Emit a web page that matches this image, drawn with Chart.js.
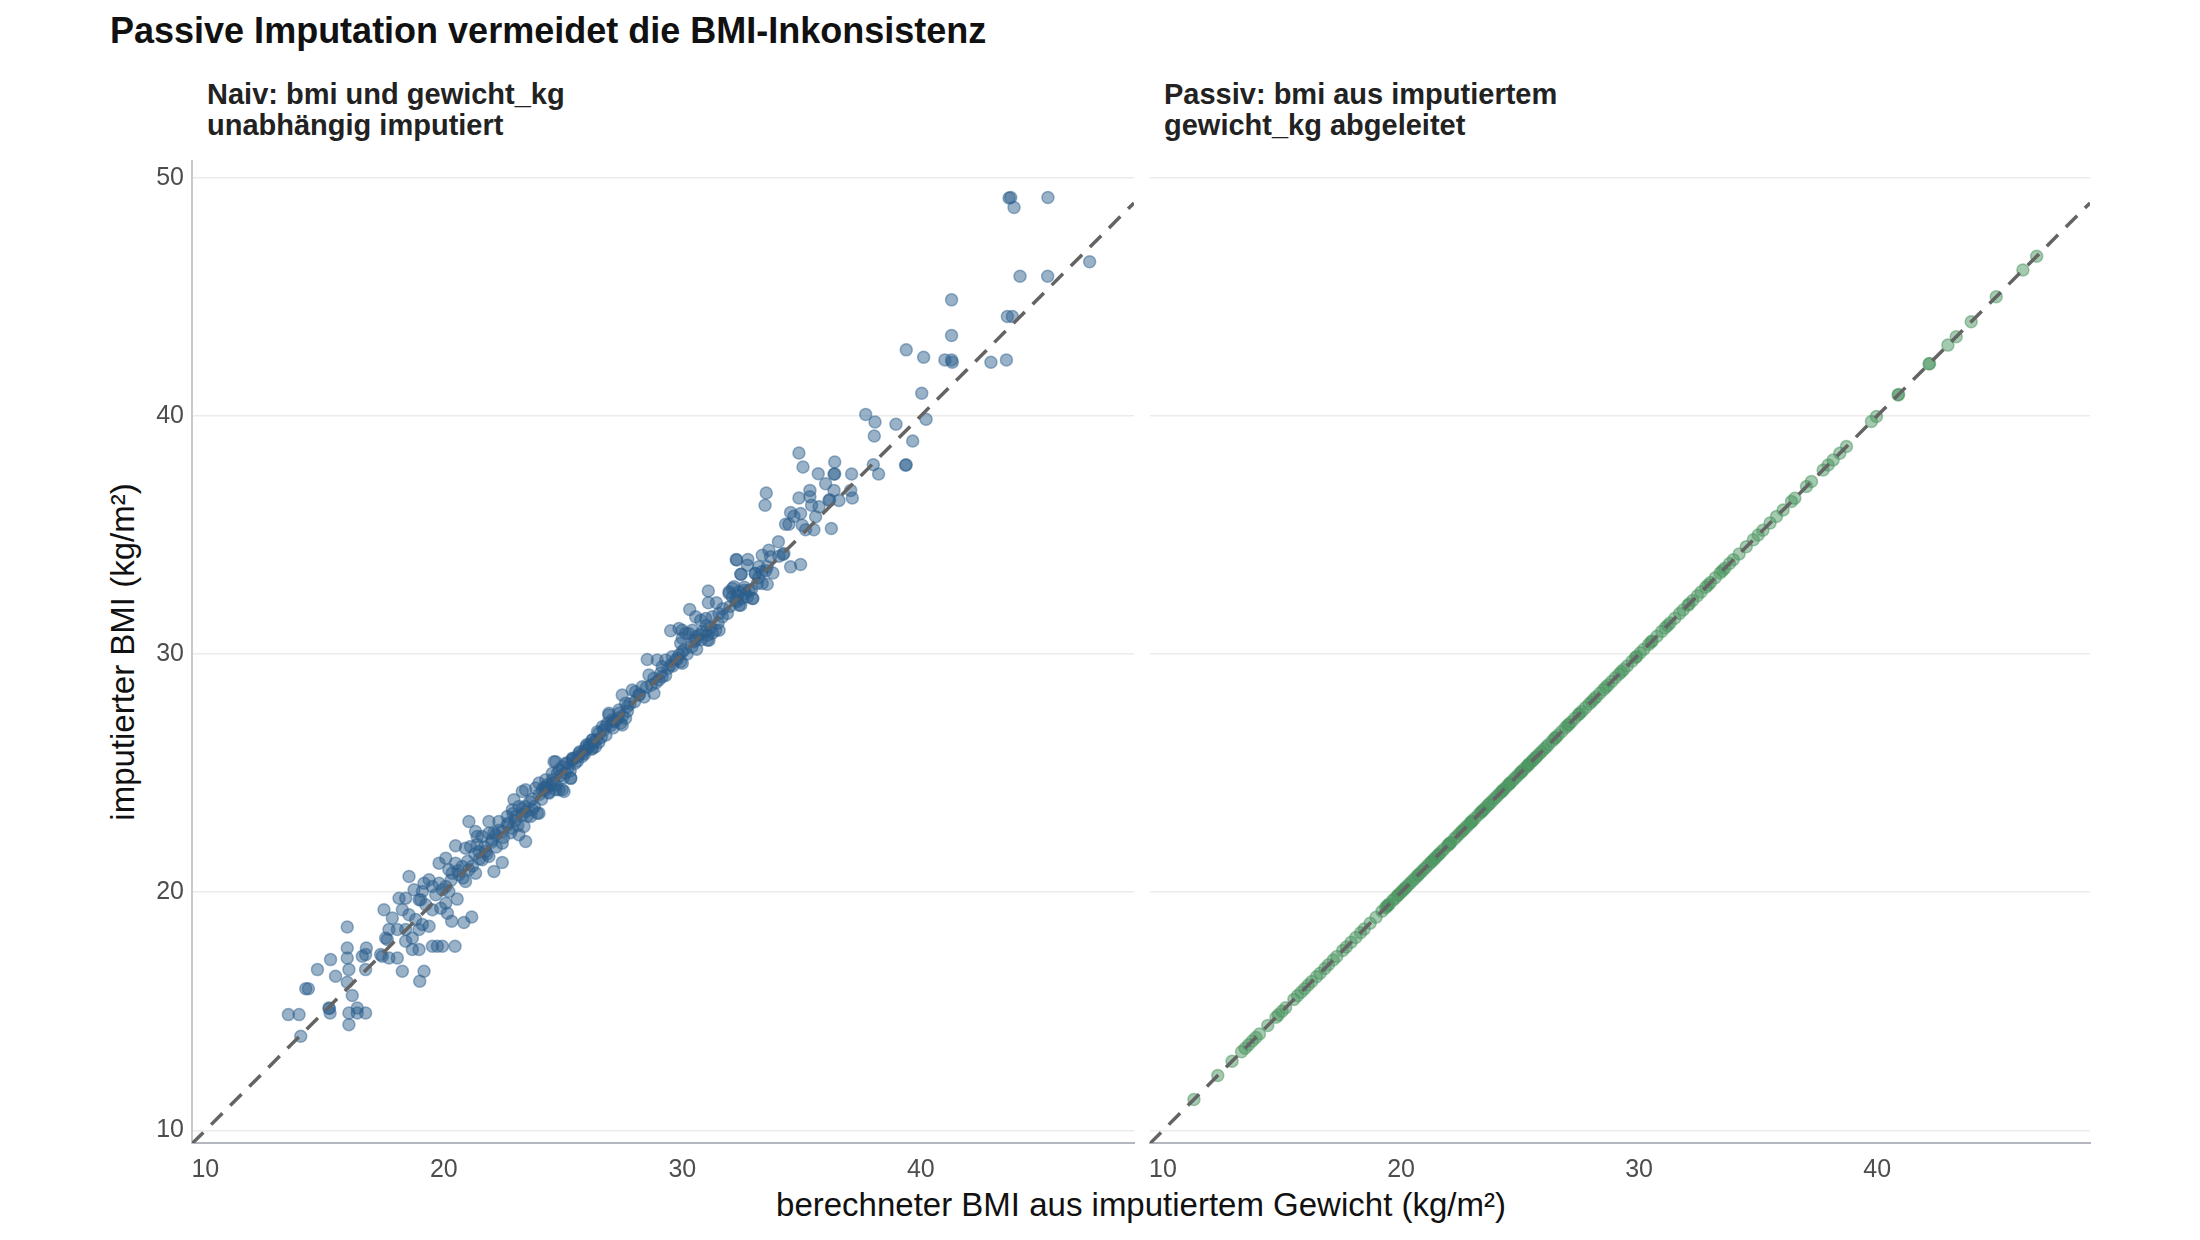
<!DOCTYPE html>
<html>
<head>
<meta charset="utf-8">
<script src="https://cdn.jsdelivr.net/npm/chart.js@4.4.1/dist/chart.umd.min.js"></script>
<style>
    body { margin: 0; width: 2200px; height: 1240px; background: #fff; position: relative; overflow: hidden;
           font-family: "Liberation Sans", Arial, sans-serif; }
    canvas { position: absolute; top: 0; }
    #naiv { left: 0; }
    #passiv { left: 1137px; }
    .txt { position: absolute; white-space: nowrap; color: #111; }
    #title { left: 110px; top: 10px; font-size: 36px; line-height: 42px; font-weight: bold; }
    .sub { top: 79px; font-size: 29px; line-height: 31px; font-weight: bold; color: #222; }
    #subNaiv { left: 207px; }
    #subPassiv { left: 1164px; }
    #ytitle { left: -177px; top: 632px; width: 600px; text-align: center; font-size: 33px; line-height: 40px;
              transform: rotate(-90deg); }
    #xtitle { left: 541px; top: 1185px; width: 1200px; text-align: center; font-size: 33px; line-height: 40px; }
</style>
</head>
<body>
<div class="txt" id="title">Passive Imputation vermeidet die BMI-Inkonsistenz</div>
<div class="txt sub" id="subNaiv">Naiv: bmi und gewicht_kg<br>unabhängig imputiert</div>
<div class="txt sub" id="subPassiv">Passiv: bmi aus imputiertem<br>gewicht_kg abgeleitet</div>
<div class="txt" id="ytitle">imputierter BMI (kg/m²)</div>
<div class="txt" id="xtitle">berechneter BMI aus imputiertem Gewicht (kg/m²)</div>
<canvas id="naiv" width="1150" height="1240"></canvas>
<canvas id="passiv" width="1063" height="1240"></canvas>
<script>
// axis limits and ticks (both panels share them)
const axisRange = [9.44, 48.94];
const yRange = [9.47, 50.7];
const xTicks = [10, 20, 30, 40];
const yTicks = [10, 20, 30, 40, 50];
const refLine = [9.44, 48.94]; // y = x

// left panel: [berechneter BMI, imputierter BMI]
const naivPunkte = [
    [43.77, 49.17], [43.70, 49.15], [43.91, 48.75], [45.33, 49.17], [47.08, 46.47], [44.16, 45.86], [45.32, 45.86],
    [41.29, 44.87], [43.63, 44.17], [43.84, 44.17], [41.29, 43.37], [39.39, 42.77], [40.12, 42.46], [41.01, 42.35],
    [41.29, 42.35], [41.32, 42.25], [42.94, 42.25], [43.59, 42.35], [40.04, 40.95], [37.69, 40.06], [38.08, 39.74],
    [38.05, 39.15], [38.96, 39.65], [40.22, 39.86], [39.66, 38.94], [39.39, 37.95], [39.36, 37.93], [38.01, 37.95],
    [38.23, 37.56], [37.10, 37.56], [37.06, 36.87], [37.13, 36.55], [36.57, 36.45],
    [34.89, 38.44], [35.06, 37.85], [36.39, 38.06], [35.70, 37.57], [36.39, 37.57], [36.36, 37.55], [36.01, 37.15],
    [36.36, 36.87], [35.35, 36.87], [35.35, 36.60], [35.42, 36.25], [34.89, 36.55], [33.52, 36.76], [33.47, 36.25],
    [36.18, 36.48], [36.15, 36.45], [35.73, 36.18], [35.59, 35.76], [34.54, 35.94], [34.68, 35.78], [34.96, 35.90],
    [34.33, 35.45], [34.47, 35.45], [35.03, 35.41], [35.17, 35.22], [35.52, 35.22], [36.25, 35.27], [34.03, 34.71],
    [33.63, 34.36], [33.35, 34.15], [33.70, 34.08], [34.05, 34.11], [34.26, 34.22], [34.22, 34.18], [32.26, 33.97],
    [32.28, 33.95], [32.75, 33.97], [32.73, 33.73], [33.21, 33.66], [33.33, 33.45], [33.56, 33.66], [34.54, 33.66],
    [34.96, 33.76], [33.05, 33.38], [33.14, 32.96], [32.47, 33.35], [33.35, 32.96], [33.56, 32.93], [31.96, 32.61],
    [32.17, 32.82], [32.31, 32.47], [32.59, 32.68], [32.73, 32.40], [32.96, 32.33], [32.45, 32.05], [32.10, 32.40],
    [31.09, 32.65], [31.09, 32.15], [31.43, 32.15], [30.31, 31.87], [30.56, 31.56], [30.77, 31.42], [30.98, 31.49],
    [31.26, 31.56], [31.54, 31.70], [31.89, 31.70], [31.68, 31.56], [30.00, 31.00], [30.28, 30.86], [30.56, 30.72],
    [30.84, 30.93], [31.12, 30.58], [31.40, 31.00], [30.49, 30.52], [31.05, 30.79], [29.93, 30.45], [30.07, 30.17],
    [29.93, 29.68],
    [32.45, 33.35], [33.07, 33.38], [32.10, 32.75], [32.38, 32.61], [32.66, 32.54], [32.94, 32.33], [32.24, 32.26],
    [32.52, 32.33], [32.38, 32.05], [31.96, 32.54], [32.80, 32.68], [29.51, 30.98], [29.86, 31.07], [30.14, 30.87],
    [30.42, 31.00], [30.70, 30.80], [30.98, 30.94], [31.26, 30.87], [31.54, 31.00], [31.05, 30.59], [30.56, 30.59],
    [30.00, 30.66], [28.53, 29.77], [28.95, 29.75], [29.30, 29.75], [29.58, 29.89], [29.86, 29.96], [30.00, 29.61],
    [29.16, 29.47], [29.51, 29.54], [29.72, 29.75], [28.60, 29.12], [28.81, 28.98], [29.02, 28.91], [29.16, 29.05],
    [28.32, 28.63], [28.04, 28.42], [28.18, 28.28], [27.90, 28.49], [28.81, 28.35], [27.48, 28.28], [27.62, 27.93],
    [27.34, 27.65], [26.92, 27.44], [27.13, 27.16], [27.41, 27.09], [27.62, 27.30], [26.86, 27.09], [26.65, 26.95],
    [26.44, 26.74], [26.23, 26.39], [26.09, 26.18], [25.95, 25.97], [26.23, 26.04], [25.81, 25.83], [25.60, 25.69],
    [25.39, 25.55], [25.18, 25.41], [24.97, 25.27], [24.76, 24.99], [24.69, 25.48], [24.55, 24.72], [24.34, 24.51],
    [24.13, 24.30], [24.41, 24.16], [24.83, 24.30], [25.04, 24.23], [25.32, 24.78], [23.99, 23.32],
    [27.69, 27.79], [27.34, 27.51], [27.06, 27.23], [27.48, 27.02], [26.92, 27.51], [26.78, 26.95], [26.50, 26.67],
    [26.22, 26.39], [26.36, 26.11], [25.95, 26.11], [25.67, 25.83], [25.39, 25.62], [25.11, 25.41], [24.83, 25.13],
    [24.62, 25.48], [24.55, 24.99], [24.27, 24.72], [23.99, 24.58], [23.85, 24.37], [25.32, 24.79], [24.97, 24.30],
    [24.69, 24.30], [24.27, 24.30], [23.43, 24.30], [23.29, 24.23], [22.94, 23.88], [23.15, 23.60], [23.43, 23.39],
    [23.71, 23.46], [23.92, 23.32], [23.64, 23.18], [23.29, 23.25], [23.01, 23.18], [22.87, 23.46], [22.66, 23.18],
    [21.89, 22.97], [22.31, 22.97], [22.66, 22.83], [22.87, 22.69], [22.45, 22.55], [22.17, 22.41], [21.89, 22.48],
    [21.61, 22.34], [21.33, 22.55], [21.05, 22.97], [21.40, 22.34], [23.15, 22.41], [23.43, 22.13], [23.36, 22.76],
    [22.45, 22.06], [22.03, 22.20], [20.49, 21.95], [20.91, 21.85], [21.12, 21.92], [21.47, 21.71], [21.75, 21.71],
    [21.89, 21.50], [21.61, 21.36], [22.10, 20.87], [22.45, 21.25], [19.80, 21.22], [20.08, 21.43], [20.21, 20.94],
    [20.49, 21.22], [20.77, 21.08], [21.05, 20.94], [21.33, 20.80], [20.63, 20.73], [20.35, 20.80], [20.91, 20.45],
    [18.54, 20.66], [19.17, 20.38], [19.38, 20.52], [19.52, 20.24], [19.80, 20.38], [20.08, 20.24], [20.21, 20.03],
    [19.94, 20.10], [19.66, 19.89], [19.10, 20.03], [18.75, 20.10], [18.96, 19.68], [18.12, 19.75], [18.40, 19.75],
    [19.03, 19.68], [19.24, 19.47], [19.52, 19.26], [19.87, 19.33], [20.08, 19.54], [20.56, 19.71], [20.15, 19.12],
    [20.33, 18.78], [20.84, 18.73], [21.17, 18.96], [17.49, 19.26], [17.84, 18.92], [18.26, 19.26], [18.54, 19.05],
    [18.82, 18.85], [19.10, 18.64], [19.38, 18.57], [18.96, 18.43], [18.40, 18.43], [18.68, 18.08], [17.70, 18.43],
    [17.56, 18.08], [18.05, 18.43], [19.52, 17.73], [19.73, 17.73], [19.94, 17.73], [20.47, 17.73], [18.68, 17.59],
    [18.96, 17.59], [18.40, 17.94], [17.42, 17.31], [17.70, 17.24], [18.05, 17.24], [18.26, 16.68], [19.17, 16.68],
    [15.95, 18.54], [15.95, 17.66], [15.95, 17.24], [16.75, 17.66], [16.58, 17.31], [16.72, 17.38], [15.25, 17.17],
    [14.70, 16.75], [15.46, 16.47], [16.02, 16.75], [15.95, 16.22], [16.72, 16.75], [14.21, 15.95], [14.32, 15.95],
    [15.18, 15.14], [15.20, 15.12], [15.23, 14.93], [16.16, 15.66], [16.02, 14.93], [16.37, 14.93], [16.72, 14.93],
    [16.37, 15.14], [16.02, 14.44], [13.48, 14.86], [13.93, 14.86], [14.00, 13.95], [17.63, 18.01], [18.99, 16.26],
    [17.35, 17.38],
    // dense ridge 20-34
    [20.3, 20.5], [20.6, 20.9], [20.8, 20.6], [21.0, 21.3], [21.2, 21.1], [21.3, 21.6], [21.5, 21.4], [21.7, 21.9],
    [21.8, 21.6], [22.0, 22.1], [22.2, 21.9], [22.3, 22.6], [22.5, 22.3], [22.7, 22.9], [22.8, 22.5], [23.0, 23.0],
    [23.1, 22.8], [23.3, 23.5], [23.5, 23.2], [23.6, 23.8], [23.8, 23.6], [24.0, 24.1], [24.1, 23.9], [24.3, 24.4],
    [24.4, 24.2], [24.6, 24.6], [24.7, 24.5], [24.9, 24.9], [25.0, 24.8], [25.2, 25.2], [25.3, 25.1], [25.5, 25.4],
    [25.6, 25.5], [25.8, 25.7], [25.9, 25.8], [26.1, 26.1], [26.2, 26.0], [26.4, 26.4], [26.5, 26.3], [26.7, 26.8],
    [26.8, 26.6], [27.0, 27.0], [27.1, 26.9], [27.3, 27.3], [27.5, 27.4], [27.7, 27.6], [27.8, 27.9], [28.0, 28.0],
    [28.2, 28.3], [28.4, 28.2], [28.5, 28.6], [28.7, 28.7], [28.9, 28.8], [29.1, 29.2], [29.3, 29.1], [29.4, 29.4],
    [29.6, 29.5], [29.8, 29.8], [30.0, 30.1], [30.2, 30.0], [30.4, 30.3], [30.6, 30.2], [30.8, 30.6], [31.0, 31.2],
    [31.2, 31.1], [31.5, 31.3], [31.7, 31.9], [32.0, 32.0], [32.3, 32.2], [32.6, 32.8], [32.9, 32.7], [33.2, 33.2],
    [33.5, 33.5], [33.8, 33.4], [21.4, 22.0], [22.1, 22.5], [22.9, 23.3], [23.7, 23.9], [24.5, 24.5], [25.4, 25.6],
    [26.0, 26.2], [26.6, 26.5], [27.2, 27.2], [24.2, 24.4], [25.1, 25.0], [25.7, 25.9], [26.3, 26.3], [23.4, 23.6]
];

// right panel: bmi derived from imputed weight (lies on the diagonal)
const passivBmi = [
    11.3, 12.3, 12.9, 13.3, 13.45, 13.6, 13.75, 13.9, 14.05, 14.4, 14.75, 14.85, 15.0, 15.15, 15.5, 15.65, 15.8,
    15.95, 16.1, 16.25, 16.45, 16.6, 16.8, 16.95, 17.15, 17.3, 17.55, 17.7, 17.9, 18.1, 18.3, 18.45, 18.7, 18.95,
    19.2, 19.35, 19.45, 19.5, 19.65, 19.75, 19.85, 20.0, 20.05, 20.15, 20.3, 20.4, 20.5, 20.6, 20.75, 20.85, 20.95,
    21.05, 21.15, 21.3, 21.4, 21.45, 21.6, 21.7, 21.8, 21.95, 22.05, 22.1, 22.25, 22.35, 22.45, 22.55, 22.7, 22.8,
    22.9, 23.0, 23.1, 23.25, 23.35, 23.4, 23.55, 23.65, 23.8, 23.9, 24.0, 24.1, 24.2, 24.3, 24.4, 24.5, 24.55, 24.7,
    24.8, 24.9, 25.0, 25.1, 25.2, 25.3, 25.4, 25.5, 25.55, 25.7, 25.8, 25.9, 26.1, 26.2, 26.35, 26.5, 26.6, 26.75,
    26.9, 27.0, 27.15, 27.3, 27.45, 27.6, 27.75, 27.9, 28.0, 28.2, 28.35, 28.5, 28.7, 28.85, 29.0, 29.15, 29.35,
    29.5, 29.7, 29.85, 30.05, 30.2, 30.4, 30.55, 30.75, 30.95, 31.1, 31.3, 31.5, 31.7, 31.85, 32.05, 32.25, 32.45,
    32.6, 32.8, 33.0, 33.2, 33.4, 33.6, 33.8, 33.96, 34.2, 34.5, 34.8, 35.0, 35.2, 35.5, 35.77, 36.05, 36.4, 36.54,
    37.03, 37.24, 37.73, 37.94, 38.15, 38.43, 38.71, 39.76, 39.97, 40.88, 40.9, 42.18, 42.2, 42.97, 43.32, 43.95,
    45.0, 46.12, 46.7,
    // second draws stacking in the dense middle
    19.4, 19.9, 20.2, 20.7, 21.25, 21.55, 22.0, 22.6, 22.95, 23.45, 23.7, 24.25, 24.6, 25.05, 25.35, 25.65, 26.0,
    26.45, 27.05, 27.5, 28.1, 28.6, 29.25, 29.9, 30.5, 31.2, 32.1, 32.9, 33.5
];

const tickFont = { family: 'Liberation Sans', size: 25 };
const axisColor = '#b3b6be';

function makeOptions(isLeft) {
    return {
        responsive: false,
        animation: false,
        layout: { padding: { left: 0, right: isLeft ? 16 : 110, top: 161, bottom: 37 } },
        plugins: { legend: { display: false }, tooltip: { enabled: false } },
        scales: {
            x: {
                type: 'linear', min: axisRange[0], max: axisRange[1],
                afterBuildTicks: (s) => { s.ticks = xTicks.map(v => ({ value: v })); },
                afterFit: (s) => { s.height = 60; },
                grid: { display: false, drawTicks: false },
                border: { display: true, color: axisColor, width: 2 },
                ticks: { font: tickFont, color: '#4d4d4d', padding: 12, maxRotation: 0 }
            },
            y: {
                type: 'linear', min: yRange[0], max: yRange[1],
                afterBuildTicks: (s) => { s.ticks = yTicks.map(v => ({ value: v })); },
                afterFit: (s) => { s.width = isLeft ? 192 : 0; },
                grid: { color: '#ebebeb', lineWidth: 1.5, drawTicks: false },
                border: { display: isLeft, color: '#c6c9ce', width: 2 },
                ticks: { display: isLeft, font: tickFont, color: '#4d4d4d', padding: 8 }
            }
        }
    };
}

function refDataset() {
    return {
        type: 'line',
        data: refLine.map(v => ({ x: v, y: v })),
        borderColor: '#646464',
        borderWidth: 3.5,
        borderDash: [16, 11],
        pointRadius: 0,
        order: 0
    };
}

new Chart(document.getElementById('naiv'), {
    type: 'scatter',
    data: {
        datasets: [
            refDataset(),
            {
                data: naivPunkte.map(p => ({ x: p[0], y: p[1] })),
                backgroundColor: 'rgba(44,94,140,0.48)',
                borderColor: 'rgba(44,94,140,0.48)',
                borderWidth: 1.5,
                pointRadius: 6,
                order: 1
            }
        ]
    },
    options: makeOptions(true)
});

new Chart(document.getElementById('passiv'), {
    type: 'scatter',
    data: {
        datasets: [
            refDataset(),
            {
                data: passivBmi.map(v => ({ x: v, y: v })),
                backgroundColor: 'rgba(74,150,96,0.5)',
                borderColor: 'rgba(74,150,96,0.5)',
                borderWidth: 1.5,
                pointRadius: 6,
                order: 1
            }
        ]
    },
    options: makeOptions(false)
});
</script>
</body>
</html>
